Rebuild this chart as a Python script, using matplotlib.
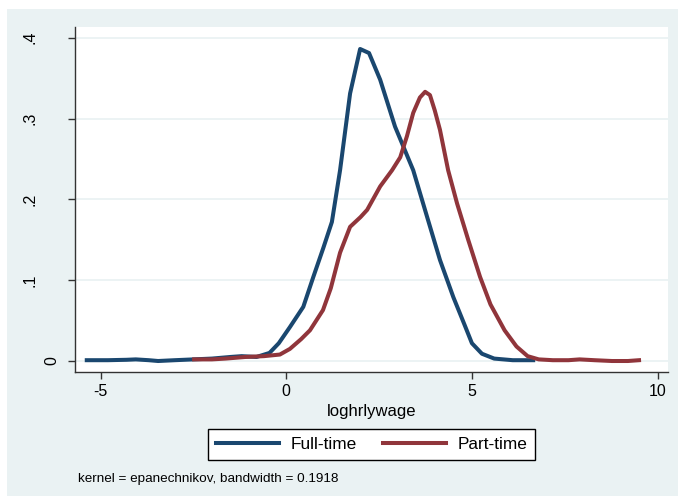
import matplotlib
matplotlib.use("Agg")
import matplotlib.pyplot as plt
from matplotlib.patches import Rectangle

plt.rcParams["font.family"] = ["Liberation Sans", "DejaVu Sans"]
plt.rcParams["axes.unicode_minus"] = False

# kernel density estimates
full_x = [-5.37, -4.8, -4.3, -4.05, -3.7, -3.45, -3.0, -2.5, -2.0, -1.5, -1.2, -0.8,
          -0.45, -0.2, 0.1, 0.46, 0.73, 1.0, 1.23, 1.45, 1.72, 1.99, 2.23, 2.53,
          2.93, 3.42, 3.75, 4.14, 4.50, 4.80, 5.00, 5.27, 5.6, 6.1, 6.65]
full_y = [0.001, 0.001, 0.0015, 0.002, 0.001, 0.0, 0.001, 0.002, 0.003, 0.005, 0.006, 0.005,
          0.010, 0.022, 0.042, 0.067, 0.104, 0.140, 0.172, 0.236, 0.331, 0.386, 0.381, 0.348,
          0.290, 0.236, 0.185, 0.125, 0.079, 0.045, 0.022, 0.009, 0.003, 0.001, 0.001]

part_x = [-2.48, -2.0, -1.63, -1.1, -0.6, -0.17, 0.1, 0.4, 0.64, 0.99, 1.2, 1.45, 1.72,
          2.0, 2.18, 2.53, 2.85, 3.07, 3.25, 3.42, 3.6, 3.74, 3.87, 4.0, 4.14, 4.36,
          4.60, 4.9, 5.22, 5.5, 5.88, 6.2, 6.5, 6.8, 7.18, 7.6, 7.9, 8.3, 8.77, 9.2, 9.5]
part_y = [0.002, 0.002, 0.003, 0.005, 0.006, 0.008, 0.015, 0.027, 0.038, 0.063, 0.09, 0.134, 0.166,
          0.178, 0.187, 0.216, 0.236, 0.252, 0.278, 0.307, 0.326, 0.333, 0.329, 0.31, 0.286, 0.236,
          0.195, 0.15, 0.104, 0.07, 0.038, 0.018, 0.006, 0.002, 0.001, 0.001, 0.002, 0.001, 0.0, 0.0, 0.001]

x_ticks = [-5, 0, 5, 10]
y_ticks = [0, 0.1, 0.2, 0.3, 0.4]
y_labels = ["0", ".1", ".2", ".3", ".4"]

NAVY = "#1a476f"
MAROON = "#90353b"
PANEL = "#eaf2f3"

W, H = 678, 496
fig = plt.figure(figsize=(W / 100, H / 100), dpi=100, facecolor="white")
fig.patches.append(Rectangle((7 / W, 0), 1 - 7 / W, 1 - 9 / H, transform=fig.transFigure,
                             facecolor=PANEL, edgecolor="none", zorder=-10))

ax = fig.add_axes([75 / W, 1 - 372 / H, (668 - 75) / W, (372 - 27) / H])
ax.set_facecolor("white")
ax.plot(full_x, full_y, color=NAVY, lw=2.9, label="Full-time", solid_joinstyle="round")
ax.plot(part_x, part_y, color=MAROON, lw=2.9, label="Part-time", solid_joinstyle="round")

ax.set_xlim(-5.687, 10.28)
ax.set_ylim(-0.0136, 0.4132)
ax.set_xticks(x_ticks)
ax.set_yticks(y_ticks)
ax.set_yticklabels(y_labels, rotation=90, va="center")
ax.grid(True, axis="y", color=PANEL, lw=1.3)
ax.set_axisbelow(True)
for side in ["top", "right"]:
    ax.spines[side].set_visible(False)
for side in ["left", "bottom"]:
    ax.spines[side].set_color("#333333")
    ax.spines[side].set_linewidth(1.0)
ax.tick_params(direction="out", length=5, width=1, color="#333333", labelsize=11.5, pad=4)
ax.tick_params(axis="y", pad=22)
ax.yaxis.get_major_ticks()[0].set_pad(6)
ax.set_xlabel("loghrlywage", fontsize=12, labelpad=3)

leg = fig.legend(loc="center", bbox_to_anchor=(371.5 / W, 1 - 444.5 / H), ncol=2,
                 fontsize=12.4, frameon=True, fancybox=False, edgecolor="black",
                 framealpha=1, handlelength=3.7, handletextpad=0.64, columnspacing=1.5,
                 borderpad=0.45)
leg.get_frame().set_linewidth(1.0)

fig.text(78 / W, 1 - 479 / H, "kernel = epanechnikov, bandwidth = 0.1918",
         fontsize=9.7, va="center", ha="left")

fig.savefig("out.png", dpi=100, facecolor="white")
